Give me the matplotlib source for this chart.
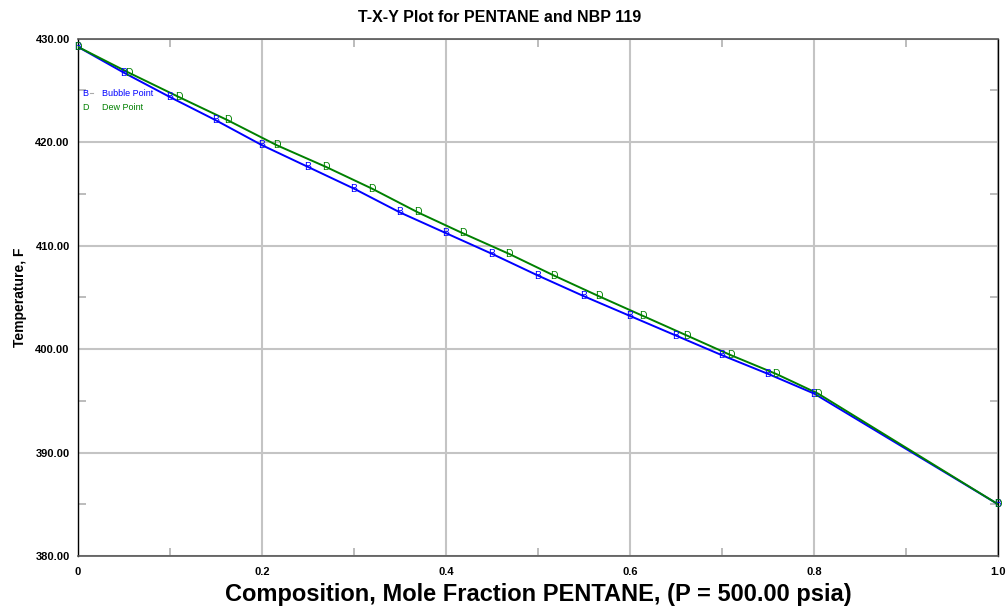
import matplotlib
matplotlib.use("Agg")
import matplotlib.pyplot as plt
from matplotlib.ticker import MultipleLocator, FixedLocator

plt.rcParams['font.family'] = ['Liberation Sans', 'DejaVu Sans']

# Liquid composition (bubble) and vapour composition (dew)
x_bubble = [0.0, 0.05, 0.10, 0.15, 0.20, 0.25, 0.30, 0.35, 0.40, 0.45,
            0.50, 0.55, 0.60, 0.65, 0.70, 0.75, 0.80, 1.00]
y_dew = [0.0, 0.0554, 0.1098, 0.163, 0.216, 0.2696, 0.3196, 0.3696, 0.418,
         0.4685, 0.5174, 0.5663, 0.6141, 0.662, 0.7098, 0.7587, 0.8043, 1.00]
temperature = [429.2, 426.7, 424.35, 422.1, 419.7, 417.6, 415.5, 413.2, 411.2,
               409.2, 407.1, 405.1, 403.2, 401.3, 399.4, 397.6, 395.7, 385.0]

x_ticks = [0, 0.2, 0.4, 0.6, 0.8, 1.0]
x_tick_labels = ["0", "0.2", "0.4", "0.6", "0.8", "1.0"]
y_ticks = [380, 390, 400, 410, 420, 430]
y_tick_labels = ["380.00", "390.00", "400.00", "410.00", "420.00", "430.00"]

BLUE = '#0000ff'
GREEN = '#008000'

fig = plt.figure(figsize=(10.08, 6.13), dpi=100)
ax = fig.add_axes([0.0774, 0.093, 0.9127, 0.844])

ax.plot(x_bubble, temperature, color=BLUE, lw=1.4, zorder=3)
ax.plot(y_dew, temperature, color=GREEN, lw=1.4, zorder=3)
for xv, tv in zip(x_bubble, temperature):
    ax.text(xv, tv, "B", color=BLUE, fontsize=7.5, ha='center', va='center', zorder=4)
for xv, tv in zip(y_dew, temperature):
    ax.text(xv, tv, "D", color=GREEN, fontsize=7.5, ha='center', va='center', zorder=4)

ax.set_xlim(0, 1.0)
ax.set_ylim(380, 430)
ax.xaxis.set_major_locator(FixedLocator(x_ticks))
ax.yaxis.set_major_locator(FixedLocator(y_ticks))
ax.set_xticklabels(x_tick_labels, fontsize=8, fontweight='bold')
ax.set_yticklabels(y_tick_labels, fontsize=8, fontweight='bold')
ax.xaxis.set_minor_locator(MultipleLocator(0.1))
ax.yaxis.set_minor_locator(MultipleLocator(5))
ax.tick_params(axis='x', which='major', length=0, pad=8)
ax.tick_params(axis='y', which='major', length=0, pad=6)
ax.tick_params(which='minor', direction='in', length=6, width=1.2, color='#b0b0b0',
               top=True, right=True, bottom=True, left=True)
ax.grid(True, which='major', color='#c4c4c4', lw=1.5, zorder=1)

for s in ['left', 'right']:
    ax.spines[s].set_color('black')
    ax.spines[s].set_linewidth(1.0)
for s in ['top', 'bottom']:
    ax.spines[s].set_color('#555555')
    ax.spines[s].set_linewidth(1.2)

# legend
ly1, ly2 = 0.8946, 0.8675
ax.text(0.005, ly1, "B", transform=ax.transAxes, color=BLUE, fontsize=6.5,
        ha='left', va='center')
ax.plot([0.0125, 0.0165], [ly1, ly1], transform=ax.transAxes, color='#aaaaaa', lw=0.8)
ax.text(0.026, ly1, "Bubble Point", transform=ax.transAxes, color=BLUE, fontsize=6.5,
        ha='left', va='center')
ax.text(0.005, ly2, "D", transform=ax.transAxes, color=GREEN, fontsize=6.5,
        ha='left', va='center')
ax.text(0.026, ly2, "Dew Point", transform=ax.transAxes, color=GREEN, fontsize=6.5,
        ha='left', va='center')

fig.text(0.496, 0.972, "T-X-Y Plot for PENTANE and NBP 119", ha='center', va='center',
         fontsize=11.5, fontweight='bold')
ax.set_xlabel("Composition, Mole Fraction PENTANE, (P = 500.00 psia)", fontsize=17,
              fontweight='bold', labelpad=4)
ax.set_ylabel("Temperature, F", fontsize=10, fontweight='bold', labelpad=6)

fig.savefig("out.png", dpi=100)
